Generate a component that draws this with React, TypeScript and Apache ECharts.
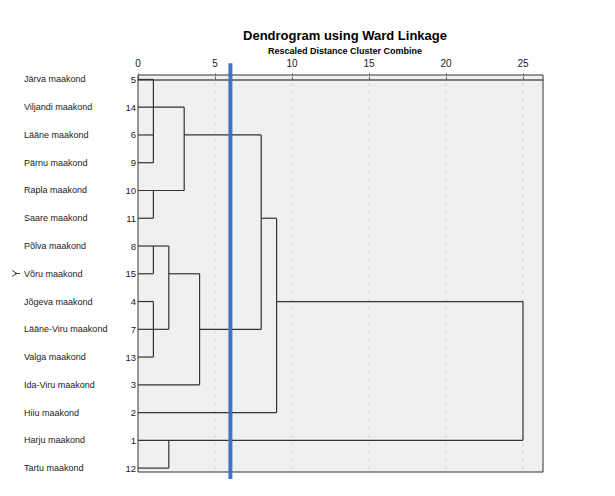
import React, { useEffect, useRef } from "react";
import * as echarts from "echarts";

// Leaves in dendrogram order (top to bottom)
const leafNames: string[] = [
  "Järva maakond",
  "Viljandi maakond",
  "Lääne maakond",
  "Pärnu maakond",
  "Rapla maakond",
  "Saare maakond",
  "Põlva maakond",
  "Võru maakond",
  "Jõgeva maakond",
  "Lääne-Viru maakond",
  "Valga maakond",
  "Ida-Viru maakond",
  "Hiiu maakond",
  "Harju maakond",
  "Tartu maakond",
];
const leafNumbers: number[] = [5, 14, 6, 9, 10, 11, 8, 15, 4, 7, 13, 3, 2, 1, 12];

// Horizontal segments: [row, fromDistance, toDistance]
const hSegments: number[][] = [
  [0, 0, 1],
  [1, 0, 3],
  [2, 0, 1],
  [2, 3, 8],
  [3, 0, 1],
  [4, 0, 3],
  [5, 0, 1],
  [5, 8, 9],
  [6, 0, 2],
  [7, 0, 1],
  [7, 2, 4],
  [8, 0, 1],
  [8, 9, 25],
  [9, 0, 2],
  [9, 4, 8],
  [10, 0, 1],
  [11, 0, 4],
  [12, 0, 9],
  [13, 0, 25],
  [14, 0, 2],
];
// Vertical segments (merges): [distance, fromRow, toRow]
const vSegments: number[][] = [
  [1, 0, 3],
  [3, 1, 4],
  [1, 4, 5],
  [8, 2, 9],
  [9, 5, 12],
  [1, 6, 7],
  [2, 6, 9],
  [4, 7, 11],
  [1, 8, 10],
  [25, 8, 13],
  [2, 13, 14],
];

const tickValues: number[] = [0, 5, 10, 15, 20, 25];
const cutoffDistance = 6;
const xMax = 26.3;

const FONT = '"Liberation Sans", Arial, sans-serif';

export default function App() {
  const ref = useRef<HTMLDivElement>(null);

  useEffect(() => {
    if (!ref.current) return;
    const chart = echarts.init(ref.current, undefined, { renderer: "svg" });
    const lineColor = "#333333";

    const option: any = {
      animation: false,
      backgroundColor: "#ffffff",
      title: [
        {
          text: "Dendrogram using Ward Linkage",
          left: 340,
          top: 24,
          textAlign: "center",
          textStyle: { fontFamily: FONT, fontSize: 13, fontWeight: "bold", color: "#000" },
        },
        {
          text: "Rescaled Distance Cluster Combine",
          left: 340,
          top: 41,
          textAlign: "center",
          textStyle: { fontFamily: FONT, fontSize: 9, fontWeight: "bold", color: "#000" },
        },
      ],
      grid: {
        left: 138,
        top: 75,
        right: 72,
        bottom: 24,
        show: true,
        backgroundColor: "#f0f0f0",
        borderColor: "#333",
        borderWidth: 1,
      },
      xAxis: {
        type: "value",
        position: "top",
        min: 0,
        max: xMax,
        interval: 5,
        axisLine: { show: true, lineStyle: { color: "#555", width: 1.5 } },
        axisTick: { show: true, length: 6, customValues: tickValues, lineStyle: { color: "#555" } },
        axisLabel: {
          customValues: tickValues,
          fontFamily: FONT,
          fontSize: 10,
          color: "#222",
          margin: 7,
        },
        splitLine: { show: false },
      },
      yAxis: {
        type: "value",
        inverse: true,
        min: -0.16,
        max: 14.14,
        axisLine: { show: false },
        axisTick: { show: false },
        axisLabel: { show: false },
        splitLine: { show: false },
      },
      graphic: [
        {
          type: "polyline",
          shape: { points: [[12, 270.5], [17, 273.5], [12, 276.5]] },
          style: { stroke: "#444", lineWidth: 1, fill: "none" },
        },
        {
          type: "line",
          shape: { x1: 15, y1: 273.5, x2: 20, y2: 273.5 },
          style: { stroke: "#444", lineWidth: 1 },
        },
      ],
      series: [
        // dashed grid lines
        {
          type: "custom",
          clip: false,
          data: tickValues.filter((v) => v > 0).map((v) => [v]),
          renderItem: (params: any, api: any) => {
            const v = api.value(0);
            const p1 = api.coord([v, -0.16]);
            const p2 = api.coord([v, 14.14]);
            return {
              type: "line",
              shape: { x1: p1[0], y1: p1[1], x2: p2[0], y2: p2[1] },
              style: { stroke: "#cfcfcf", lineWidth: 1, lineDash: [3, 5] },
            };
          },
          z: 1,
        },
        // horizontal segments
        {
          type: "custom",
          clip: false,
          data: hSegments,
          renderItem: (params: any, api: any) => {
            const row = api.value(0);
            const p1 = api.coord([api.value(1), row]);
            const p2 = api.coord([api.value(2), row]);
            return {
              type: "line",
              shape: { x1: p1[0], y1: p1[1], x2: p2[0], y2: p2[1] },
              style: { stroke: lineColor, lineWidth: 1.2 },
            };
          },
          z: 3,
        },
        // vertical segments
        {
          type: "custom",
          clip: false,
          data: vSegments,
          renderItem: (params: any, api: any) => {
            const d = api.value(0);
            const p1 = api.coord([d, api.value(1)]);
            const p2 = api.coord([d, api.value(2)]);
            return {
              type: "line",
              shape: { x1: p1[0], y1: p1[1], x2: p2[0], y2: p2[1] },
              style: { stroke: lineColor, lineWidth: 1.2 },
            };
          },
          z: 3,
        },
        // leaf labels
        {
          type: "custom",
          clip: false,
          data: leafNames.map((n, i) => [i, leafNumbers[i], n]),
          renderItem: (params: any, api: any) => {
            const i = params.dataIndex;
            const p = api.coord([0, i]);
            return {
              type: "group",
              children: [
                {
                  type: "text",
                  style: {
                    x: 24,
                    y: p[1],
                    text: leafNames[i],
                    fill: "#222",
                    font: `9px ${FONT}`,
                    textAlign: "left",
                    textVerticalAlign: "middle",
                  },
                },
                {
                  type: "text",
                  style: {
                    x: p[0] - 2,
                    y: p[1],
                    text: String(leafNumbers[i]),
                    fill: "#222",
                    font: `9.5px ${FONT}`,
                    textAlign: "right",
                    textVerticalAlign: "middle",
                  },
                },
              ],
            };
          },
          z: 4,
        },
        // cutoff line
        {
          type: "line",
          clip: false,
          symbol: "none",
          data: [
            [cutoffDistance, -0.58],
            [cutoffDistance, 14.39],
          ],
          lineStyle: { color: "#4472c4", width: 4 },
          z: 5,
        },
      ],
    };

    chart.setOption(option);
    return () => chart.dispose();
  }, []);

  return (
    <div
      ref={ref}
      style={{ position: "fixed", left: 0, top: 0, width: 615, height: 496 }}
    />
  );
}
